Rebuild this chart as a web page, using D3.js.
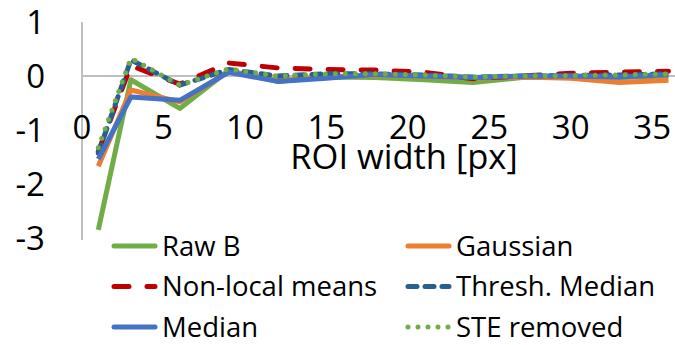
<!DOCTYPE html>
<html>
<head>
<meta charset="utf-8">
<script src="https://cdn.jsdelivr.net/npm/d3@7"></script>
<style>
  body { margin: 0; background: #fff; }
  text { font-family: "Open Sans", sans-serif; fill: #000; }
</style>
</head>
<body>
<svg width="675" height="345"></svg>
<script>
// ROI width in px
var roiWidth = [1, 3, 6, 9, 12, 15, 18, 21, 24, 27, 30, 33, 36];

var rawB = [-2.85, -0.07, -0.6, 0.1, -0.1, -0.02, -0.03, -0.07, -0.12, -0.03, -0.02, -0.03, 0.0];
var gaussian = [-1.67, -0.26, -0.48, 0.08, -0.08, -0.02, 0.02, 0.0, -0.04, -0.02, -0.04, -0.12, -0.08];
var nonLocalMeans = [-1.4, 0.19, -0.15, 0.24, 0.15, 0.12, 0.11, 0.07, -0.05, 0.0, 0.05, 0.07, 0.09];
var threshMedian = [-1.43, 0.3, -0.17, 0.12, 0.0, 0.04, 0.04, 0.02, -0.02, 0.0, 0.01, 0.02, 0.04];
var median = [-1.54, -0.39, -0.45, 0.07, -0.1, -0.04, 0.03, 0.0, -0.03, 0.0, 0.0, -0.02, 0.03];
var steRemoved = [-1.33, 0.33, -0.17, 0.13, 0.0, 0.04, 0.04, 0.02, -0.02, 0.0, 0.01, 0.02, 0.04];

var xTicks = [0, 5, 10, 15, 20, 25, 30, 35];
var yTicks = [1, 0, -1, -2, -3];

var series = [
  { name: "Raw B", values: rawB, color: "#70AD47", dash: null },
  { name: "Gaussian", values: gaussian, color: "#ED7D31", dash: null },
  { name: "Non-local means", values: nonLocalMeans, color: "#C00000", dash: "15 18" },
  { name: "Thresh. Median", values: threshMedian, color: "#285F91", dash: "9 8" },
  { name: "Median", values: median, color: "#4472C4", dash: null },
  { name: "STE removed", values: steRemoved, color: "#70AD47", dash: "0 10" },
];

var svg = d3.select("svg");

var x = d3.scaleLinear().domain([0, 36.4]).range([82, 675]);
var y = d3.scaleLinear().domain([-3, 1]).range([238, 22]);

// axis lines
svg
  .append("line")
  .attr("x1", x(0))
  .attr("x2", x(0))
  .attr("y1", y(1))
  .attr("y2", y(-3) + 2)
  .style("stroke", "#BFBFBF")
  .attr("stroke-width", 2);

svg
  .append("line")
  .attr("x1", x(0))
  .attr("x2", 675)
  .attr("y1", y(0))
  .attr("y2", y(0))
  .style("stroke", "#BFBFBF")
  .attr("stroke-width", 2);

// tick labels
svg
  .append("g")
  .selectAll("text")
  .data(yTicks)
  .enter()
  .append("text")
  .attr("x", 45)
  .attr("y", function (d) {
    return y(d) + 12;
  })
  .attr("text-anchor", "end")
  .style("font-size", "33px")
  .text(function (d) {
    return d < 0 ? "-" + Math.abs(d) : d;
  });

svg
  .append("g")
  .selectAll("text")
  .data(xTicks)
  .enter()
  .append("text")
  .attr("x", function (d) {
    return x(d);
  })
  .attr("y", 139)
  .attr("text-anchor", "middle")
  .style("font-size", "33px")
  .text(function (d) {
    return d;
  });

svg
  .append("text")
  .attr("x", 404)
  .attr("y", 169)
  .attr("text-anchor", "middle")
  .style("font-size", "34.5px")
  .text("ROI width [px]");

// lines
var line = d3
  .line()
  .x(function (d, i) {
    return x(roiWidth[i]);
  })
  .y(function (d) {
    return y(d);
  });

svg
  .append("g")
  .selectAll("path")
  .data(series)
  .enter()
  .append("path")
  .attr("d", function (d) {
    return line(d.values);
  })
  .style("fill", "none")
  .style("stroke", function (d) {
    return d.color;
  })
  .attr("stroke-width", 5)
  .attr("stroke-linejoin", "round")
  .attr("stroke-linecap", function (d) {
    return d.dash ? "round" : "butt";
  })
  .attr("stroke-dasharray", function (d) {
    return d.dash;
  });

// legend, two columns
var legend = svg
  .append("g")
  .selectAll("g")
  .data(series)
  .enter()
  .append("g")
  .attr("transform", function (d, i) {
    return "translate(" + (112 + (i % 2) * 294) + "," + (246 + Math.floor(i / 2) * 40.5) + ")";
  });

legend
  .append("line")
  .attr("x1", 2)
  .attr("x2", 43)
  .style("stroke", function (d) {
    return d.color;
  })
  .attr("stroke-width", 5)
  .attr("stroke-linecap", "round")
  .attr("stroke-dasharray", function (d) {
    return d.dash;
  });

legend
  .append("text")
  .attr("x", 50)
  .attr("y", 9.5)
  .style("font-size", "27.5px")
  .text(function (d) {
    return d.name;
  });
</script>
</body>
</html>
